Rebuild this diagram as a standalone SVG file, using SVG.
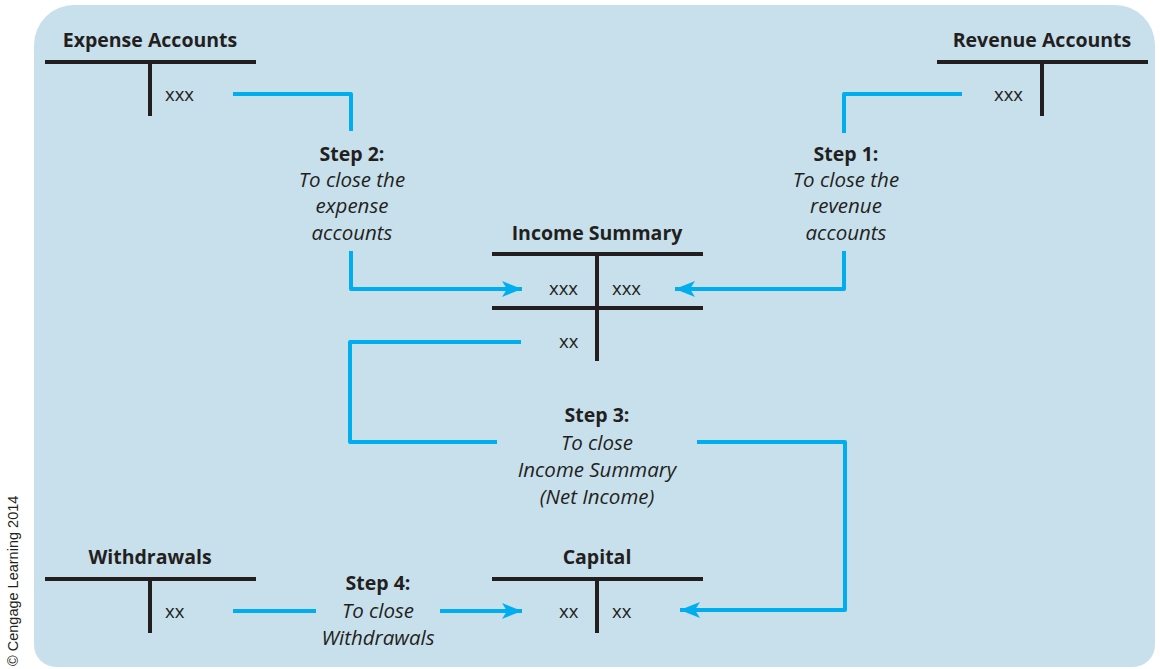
<svg xmlns="http://www.w3.org/2000/svg" width="1160" height="669" viewBox="0 0 1160 669">
<style>
.bg{fill:#c8e0ec}
.t{stroke:#231f20;stroke-width:4;fill:none}
.c{stroke:#00aeef;stroke-width:4;fill:none;stroke-linejoin:round}
.title{font-family:"Open Sans","Liberation Sans",sans-serif;font-weight:bold;font-size:19.5px;fill:#231f20;text-anchor:middle}
.val{font-family:"Open Sans","Liberation Sans",sans-serif;font-size:18.5px;fill:#231f20}
.step{font-family:"Open Sans","Liberation Sans",sans-serif;font-weight:bold;font-size:19.5px;fill:#231f20;text-anchor:middle}
.desc{font-family:"Open Sans","Liberation Sans",sans-serif;font-style:italic;font-size:20.5px;fill:#231f20;text-anchor:middle}
.copy{font-family:"Liberation Sans",Arial,sans-serif;font-size:14.5px;fill:#231f20}
</style>
<defs>
<marker id="ah" markerUnits="userSpaceOnUse" markerWidth="22" markerHeight="20" refX="20" refY="10" orient="auto">
<path d="M0,2 L20,10 L0,18 L5,10 Z" fill="#00aeef"/>
</marker>
</defs>
<path class="bg" d="M74,5 H1115 A40,40 0 0 1 1155,45 V645 A22,22 0 0 1 1133,667 H56 A22,22 0 0 1 34,645 V45 A40,40 0 0 1 74,5 Z"/>
<text class="copy" transform="translate(18,666) rotate(-90)">© Cengage Learning 2014</text>

<g id="expense-accounts">
<text class="title" x="150" y="47">Expense Accounts</text>
<path class="t" d="M45,62 H256 M150,62 V116"/>
<text class="val" x="165" y="101">xxx</text>
</g>
<g id="revenue-accounts">
<text class="title" x="1042" y="47">Revenue Accounts</text>
<path class="t" d="M937,62 H1148 M1042,62 V116"/>
<text class="val" x="994" y="101">xxx</text>
</g>
<g id="income-summary">
<text class="title" x="597" y="240">Income Summary</text>
<path class="t" d="M492,254 H703 M492,308 H703 M597,254 V361"/>
<text class="val" x="549" y="295">xxx</text>
<text class="val" x="612" y="295">xxx</text>
<text class="val" x="559" y="348">xx</text>
</g>
<g id="withdrawals">
<text class="title" x="150" y="564">Withdrawals</text>
<path class="t" d="M45,579 H256 M150,579 V633"/>
<text class="val" x="165" y="618">xx</text>
</g>
<g id="capital">
<text class="title" x="597" y="564">Capital</text>
<path class="t" d="M492,579 H703 M597,579 V633"/>
<text class="val" x="559" y="618">xx</text>
<text class="val" x="612" y="618">xx</text>
</g>

<g id="step1">
<text class="step" x="846" y="161">Step 1:</text>
<text class="desc" x="846" y="187">To close the</text>
<text class="desc" x="846" y="213">revenue</text>
<text class="desc" x="846" y="240">accounts</text>
</g>
<g id="step2">
<text class="step" x="352" y="161">Step 2:</text>
<text class="desc" x="352" y="187">To close the</text>
<text class="desc" x="352" y="213">expense</text>
<text class="desc" x="352" y="240">accounts</text>
</g>
<g id="step3">
<text class="step" x="597" y="422">Step 3:</text>
<text class="desc" x="597" y="450">To close</text>
<text class="desc" x="597" y="477">Income Summary</text>
<text class="desc" x="597" y="504">(Net Income)</text>
</g>
<g id="step4">
<text class="step" x="378" y="590">Step 4:</text>
<text class="desc" x="378" y="618">To close</text>
<text class="desc" x="378" y="645">Withdrawals</text>
</g>

<g id="connectors">
<path class="c" d="M233,94 H351 V131"/>
<path class="c" d="M351,251 V289 H522" marker-end="url(#ah)"/>
<path class="c" d="M962,94 H844 V133"/>
<path class="c" d="M844,251 V289 H675" marker-end="url(#ah)"/>
<path class="c" d="M521,342 H350 V442 H497"/>
<path class="c" d="M697,442 H845 V610 H680" marker-end="url(#ah)"/>
<path class="c" d="M233,611 H316"/>
<path class="c" d="M440,611 H522" marker-end="url(#ah)"/>
</g>
</svg>
